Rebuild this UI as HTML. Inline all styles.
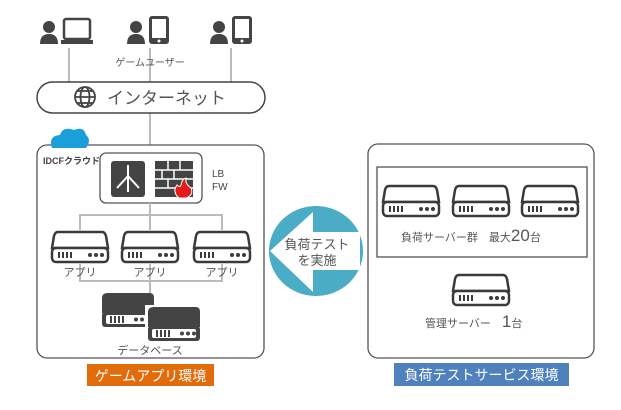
<!DOCTYPE html>
<html><head><meta charset="utf-8"><style>
body{margin:0;background:#fff;}
svg text{font-family:"Liberation Sans","Noto Sans CJK JP",sans-serif;}
</style></head><body>
<svg width="621" height="405" viewBox="0 0 621 405" xmlns="http://www.w3.org/2000/svg">
<defs>
<g id="srv">
 <path d="M6,2 H50 Q53,2 54,6 L56,18 H0 L2,6 Q3,2 6,2 Z" fill="#fff" stroke="#3a3a3a" stroke-width="2.5"/>
 <rect x="0" y="18" width="56" height="14" rx="4" fill="#fff" stroke="#3a3a3a" stroke-width="2.5"/>
 <rect x="6" y="22" width="2" height="6" fill="#3a3a3a"/><rect x="10" y="22" width="2" height="6" fill="#3a3a3a"/><rect x="14" y="22" width="2" height="6" fill="#3a3a3a"/><rect x="18" y="22" width="2" height="6" fill="#3a3a3a"/>
 <circle cx="38" cy="25" r="2" fill="#3a3a3a"/><circle cx="44" cy="25" r="2" fill="#3a3a3a"/><circle cx="50" cy="25" r="2" fill="#3a3a3a"/>
</g>
<g id="dsrv">
 <path d="M6,0 H48 Q52,0 52,5 V20 H0 V5 Q0,0 6,0 Z" fill="#444"/>
 <rect x="0" y="19" width="52" height="15" rx="3" fill="#444"/>
 <rect x="4" y="22" width="44" height="9" rx="2" fill="#fff"/>
 <rect x="8" y="23" width="2" height="7" fill="#444"/><rect x="12" y="23" width="2" height="7" fill="#444"/><rect x="16" y="23" width="2" height="7" fill="#444"/><rect x="20" y="23" width="2" height="7" fill="#444"/>
 <circle cx="34" cy="26.5" r="2" fill="#444"/><circle cx="40" cy="26.5" r="2" fill="#444"/><circle cx="46" cy="26.5" r="2" fill="#444"/>
</g>
<g id="person">
 <circle cx="9" cy="7" r="6" fill="#444"/>
 <path d="M0,24 Q0,14 9,14 Q18,14 18,24 Z" fill="#444"/>
</g>
<g id="tablet">
 <rect x="0" y="0" width="20" height="28" rx="3" fill="#444"/>
 <rect x="3" y="3" width="14" height="19" fill="#fff"/>
 <circle cx="10" cy="25" r="1.5" fill="#fff"/>
</g>
</defs>

<!-- users -->
<use href="#person" x="40" y="20"/>
<rect x="64" y="19" width="26" height="20" rx="2" fill="none" stroke="#444" stroke-width="2.5"/>
<path d="M61,40 H93 V44 H61 Z" fill="#444"/>
<use href="#person" x="127" y="20"/>
<use href="#tablet" x="149" y="16"/>
<use href="#person" x="210" y="20"/>
<use href="#tablet" x="232" y="16"/>
<g stroke="#bbb" stroke-width="2">
<line x1="69" y1="48" x2="69" y2="82"/><line x1="150" y1="48" x2="150" y2="82"/><line x1="231" y1="48" x2="231" y2="82"/>
<line x1="150" y1="113" x2="150" y2="155"/>
</g>
<text x="150" y="66" font-size="10" fill="#555" text-anchor="middle">ゲームユーザー</text>

<rect x="37" y="82" width="228" height="31" rx="15.5" fill="#fff" stroke="#444" stroke-width="1.5"/>
<g fill="none" stroke="#444" stroke-width="1.8">
<circle cx="85" cy="97" r="10"/><ellipse cx="85" cy="97" rx="4.5" ry="10"/><line x1="75" y1="97" x2="95" y2="97"/><line x1="77" y1="91" x2="93" y2="91"/><line x1="77" y1="103" x2="93" y2="103"/>
</g>
<text x="107" y="104" font-size="17" fill="#555">インターネット</text>

<!-- left box -->
<rect x="37" y="145" width="227" height="213" rx="10" fill="#fff" stroke="#555" stroke-width="1.3"/>
<path d="M52,148 Q48,136 60,135 Q63,126 74,130 Q84,126 86,135 Q92,140 86,148 Z" fill="#1a9fd9"/>
<text x="43" y="164" font-size="9" font-weight="bold" fill="#444">IDCFクラウド</text>

<rect x="100" y="153" width="102" height="50" rx="6" fill="#fff" stroke="#555" stroke-width="1.3"/>
<rect x="111" y="161" width="34" height="36" rx="3" fill="#444"/>
<g stroke="#fff" stroke-width="2" fill="none"><line x1="128" y1="165" x2="128" y2="192"/><path d="M128,176 L117,188"/><path d="M128,176 L139,188"/></g>
<rect x="155" y="161" width="38" height="36" fill="#444"/>
<g stroke="#fff" stroke-width="1.5"><line x1="155" y1="170" x2="193" y2="170"/><line x1="155" y1="179" x2="193" y2="179"/><line x1="155" y1="188" x2="193" y2="188"/><line x1="168" y1="161" x2="168" y2="170"/><line x1="180" y1="161" x2="180" y2="170"/><line x1="162" y1="170" x2="162" y2="179"/><line x1="174" y1="170" x2="174" y2="179"/><line x1="168" y1="179" x2="168" y2="188"/></g>
<path d="M179,198 Q172,192 177,185 Q180,188 181,185 Q182,179 186,178 Q185,184 191,188 Q194,195 186,198 Z" fill="#e21b1b" stroke="#fff" stroke-width="1"/>
<text x="212" y="177" font-size="10" fill="#444">LB</text>
<text x="212" y="190" font-size="10" fill="#444">FW</text>

<g stroke="#bbb" stroke-width="2" fill="none">
<line x1="150" y1="203" x2="150" y2="230"/><polyline points="80,230 80,215 222,215 222,230"/>
<polyline points="80,264 80,281 222,281 222,264"/><line x1="150" y1="264" x2="150" y2="296"/>
</g>
<use href="#srv" x="52" y="230"/><use href="#srv" x="122" y="230"/><use href="#srv" x="194" y="230"/>
<g font-size="11" fill="#555" text-anchor="middle"><text x="80" y="276">アプリ</text><text x="150" y="276">アプリ</text><text x="222" y="276">アプリ</text></g>
<use href="#dsrv" x="102" y="293"/>
<rect x="145" y="305" width="60" height="36" fill="#fff"/>
<use href="#dsrv" x="148" y="307"/>
<text x="150" y="354" font-size="11" fill="#555" text-anchor="middle">データベース</text>
<rect x="87" y="364" width="127" height="22" fill="#e26b0a"/>
<text x="150.5" y="381" font-size="14" fill="#fff" text-anchor="middle">ゲームアプリ環境</text>

<!-- arrow -->
<ellipse cx="316" cy="251" rx="47" ry="45" fill="#4bacc6"/>
<path d="M270,251 L313,212 V232 H360 V270 H313 V292 Z" fill="#fff"/>
<text x="317" y="249" font-size="13" fill="#555" text-anchor="middle">負荷テスト</text>
<text x="317" y="265" font-size="13" fill="#555" text-anchor="middle">を実施</text>

<!-- right box -->
<rect x="368" y="144" width="226" height="214" rx="10" fill="#fff" stroke="#555" stroke-width="1.3"/>
<rect x="377" y="167" width="210" height="90" fill="#fff" stroke="#555" stroke-width="1.3"/>
<use href="#srv" x="383" y="184"/><use href="#srv" x="453" y="184"/><use href="#srv" x="522" y="184"/>
<text x="401" y="241" font-size="11" fill="#555">負荷サーバー群　最大<tspan font-size="17">20</tspan>台</text>
<use href="#srv" x="453" y="273"/>
<text x="425" y="327" font-size="11" fill="#555">管理サーバー　<tspan font-size="17">1</tspan>台</text>
<rect x="394" y="363" width="175" height="23" fill="#4f81bd"/>
<text x="481.5" y="380" font-size="14" fill="#fff" text-anchor="middle">負荷テストサービス環境</text>
</svg>
</body></html>
